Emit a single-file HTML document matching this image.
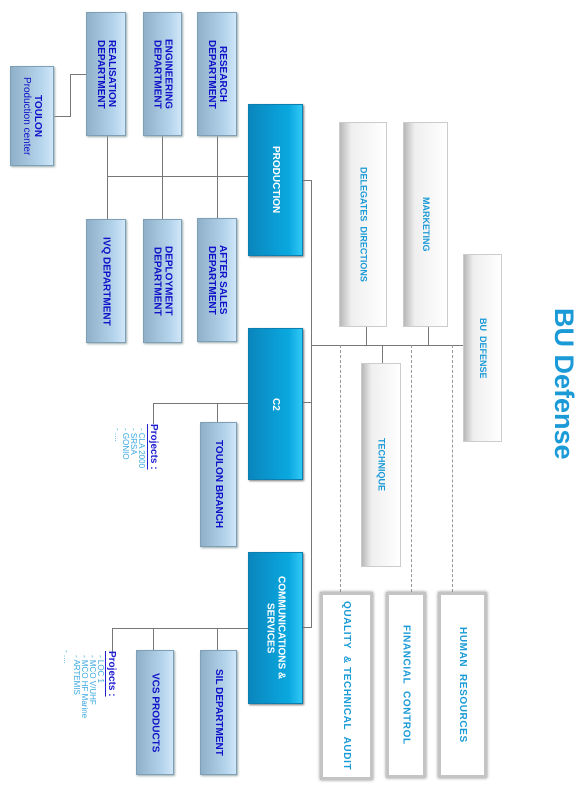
<!DOCTYPE html>
<html><head><meta charset="utf-8"><style>
body{margin:0;width:579px;height:787px;background:#fff;position:relative;overflow:hidden;font-family:"Liberation Sans",sans-serif}
.b{position:absolute;box-sizing:border-box;display:flex;align-items:center;justify-content:center;writing-mode:vertical-rl;text-align:center;font-weight:bold;font-size:10px;line-height:11px}
.lb{background:linear-gradient(to right,#8fb0c8,#b4d4ec 70%,#cfe6f8);border:1px solid #7f9fb6;color:#1010c8;box-shadow:1px 1px 2px #9aa}
.db{background:linear-gradient(to right,#0a86bd,#0aa8e0 75%,#30c8f5);border:1px solid #0a7fb0;color:#fff;box-shadow:1px 1px 2px #777}
.gb{background:linear-gradient(to right,#b8b8b8,#efefef 25%,#fff);border:1px solid #ccc;color:#1a9ad6;font-weight:bold;font-size:9px}
.wb{background:#fff;border:3px solid #c4c4c4;box-shadow:0 0 3px #888;color:#1a9ad6;font-size:10px;font-weight:bold;letter-spacing:.6px}
.l{position:absolute;background:#777}
.d{position:absolute;border-left:1px dashed #999;width:0}
.t{position:absolute;writing-mode:vertical-rl;font-size:8px;line-height:8px;width:8px;color:#3aa8e0;white-space:nowrap}
.p{position:absolute;writing-mode:vertical-rl;color:#2020d0;font-weight:bold;font-size:10px;line-height:11px;text-decoration:underline;white-space:nowrap}
</style></head><body>
<div class="l" style="left:54px;top:116px;width:16px;height:1px"></div>
<div class="l" style="left:70px;top:74px;width:1px;height:43px"></div>
<div class="l" style="left:70px;top:74px;width:16px;height:1px"></div>
<div class="l" style="left:107px;top:176px;width:142px;height:1px"></div>
<div class="l" style="left:107px;top:136px;width:1px;height:83px"></div>
<div class="l" style="left:162px;top:136px;width:1px;height:83px"></div>
<div class="l" style="left:217px;top:136px;width:1px;height:83px"></div>
<div class="l" style="left:303px;top:180px;width:8px;height:1px"></div>
<div class="l" style="left:311px;top:180px;width:1px;height:448px"></div>
<div class="l" style="left:303px;top:402px;width:8px;height:1px"></div>
<div class="l" style="left:303px;top:627px;width:8px;height:1px"></div>
<div class="l" style="left:311px;top:345px;width:152px;height:1px"></div>
<div class="l" style="left:366px;top:327px;width:1px;height:18px"></div>
<div class="l" style="left:428px;top:327px;width:1px;height:18px"></div>
<div class="l" style="left:382px;top:345px;width:1px;height:18px"></div>
<div class="d" style="left:340px;top:345px;height:247px"></div>
<div class="d" style="left:411px;top:345px;height:247px"></div>
<div class="d" style="left:452px;top:345px;height:247px"></div>
<div class="l" style="left:153px;top:403px;width:95px;height:1px"></div>
<div class="l" style="left:217px;top:403px;width:1px;height:19px"></div>
<div class="l" style="left:153px;top:403px;width:1px;height:21px"></div>
<div class="l" style="left:112px;top:628px;width:136px;height:1px"></div>
<div class="l" style="left:217px;top:628px;width:1px;height:22px"></div>
<div class="l" style="left:153px;top:628px;width:1px;height:22px"></div>
<div class="l" style="left:112px;top:628px;width:1px;height:24px"></div>
<div class="b lb" style="left:10px;top:66px;width:44px;height:100px"><span>TOULON<br><span style="font-weight:normal">Production center</span></span></div>
<div class="b lb" style="left:86px;top:12px;width:40px;height:124px">REALISATION<br>DEPARTMENT</div>
<div class="b lb" style="left:143px;top:12px;width:39px;height:124px">ENGINEERING<br>DEPARTMENT</div>
<div class="b lb" style="left:197px;top:12px;width:40px;height:124px">RESEARCH<br>DEPARTMENT</div>
<div class="b lb" style="left:86px;top:219px;width:40px;height:124px">IVQ DEPARTMENT</div>
<div class="b lb" style="left:143px;top:219px;width:39px;height:124px">DEPLOYMENT<br>DEPARTMENT</div>
<div class="b lb" style="left:197px;top:218px;width:40px;height:124px">AFTER SALES<br>DEPARTMENT</div>
<div class="b db" style="left:248px;top:104px;width:55px;height:152px">PRODUCTION</div>
<div class="b db" style="left:248px;top:328px;width:55px;height:152px">C2</div>
<div class="b db" style="left:248px;top:552px;width:55px;height:152px">COMMUNICATIONS &amp;<br>SERVICES</div>
<div class="b lb" style="left:200px;top:422px;width:37px;height:125px">TOULON BRANCH</div>
<div class="b lb" style="left:200px;top:650px;width:37px;height:125px">SIL DEPARTMENT</div>
<div class="b lb" style="left:136px;top:650px;width:38px;height:125px">VCS PRODUCTS</div>
<div class="b gb" style="left:339px;top:122px;width:48px;height:205px">DELEGATES&nbsp; DIRECTIONS</div>
<div class="b gb" style="left:403px;top:122px;width:45px;height:205px">MARKETING</div>
<div class="b gb" style="left:463px;top:254px;width:39px;height:188px">BU&nbsp; DEFENSE</div>
<div class="b gb" style="left:361px;top:363px;width:40px;height:204px">TECHNIQUE</div>
<div class="b wb" style="left:320px;top:592px;width:53px;height:188px">QUALITY&nbsp; &amp; TECHNICAL&nbsp; AUDIT</div>
<div class="b wb" style="left:386px;top:592px;width:40px;height:186px">FINANCIAL&nbsp; CONTROL</div>
<div class="b wb" style="left:438px;top:592px;width:49px;height:186px">HUMAN&nbsp; RESOURCES</div>
<div style="position:absolute;left:548px;top:308px;writing-mode:vertical-rl;font-size:27px;font-weight:bold;color:#1a9ad6;line-height:32px">BU Defense</div>
<div class="p" style="left:148px;top:424px">Projects :</div>
<div class="t" style="left:137px;top:428px">- CLA 2000</div>
<div class="t" style="left:129px;top:428px">- SRSA</div>
<div class="t" style="left:121px;top:428px">- GONIO</div>
<div class="t" style="left:113px;top:428px">- ....</div>
<div class="p" style="left:106px;top:651px">Projects :</div>
<div class="t" style="left:96px;top:655px">- LOC 1</div>
<div class="t" style="left:88px;top:655px">- MCO V/UHF</div>
<div class="t" style="left:80px;top:655px">- MCO HF Marine</div>
<div class="t" style="left:72px;top:655px">- ARTEMIS</div>
<div class="t" style="left:62px;top:650px">- ....</div>
</body></html>
